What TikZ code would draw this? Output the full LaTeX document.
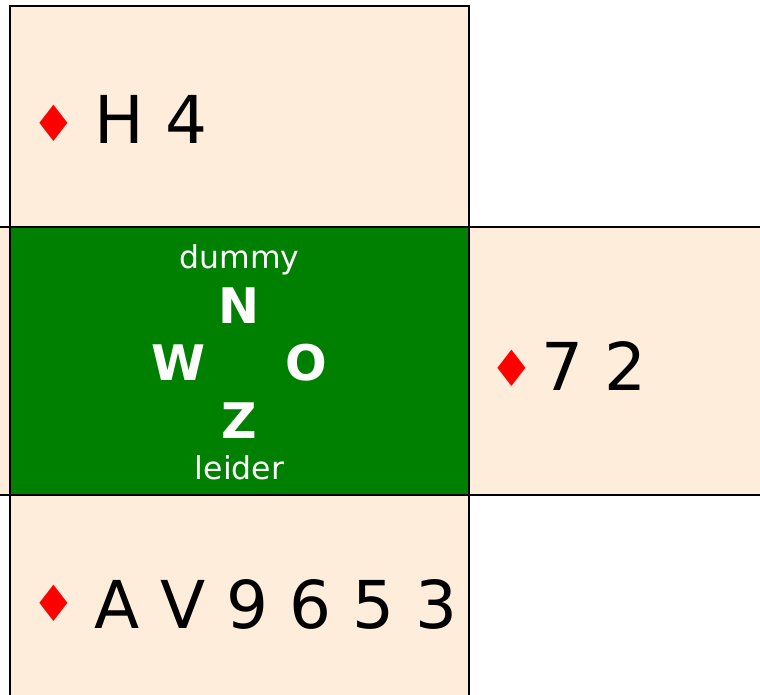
\documentclass[tikz,border=0pt]{standalone}
\usepackage{fontspec}
\setmainfont{DejaVu Sans}
\definecolor{handbg}{RGB}{253,237,218}
\definecolor{tablegreen}{RGB}{0,128,0}
\begin{document}
\begin{tikzpicture}[x=1pt,y=-1pt,
  handbox/.style={fill=handbg,draw=black,line width=2pt},
  tablebox/.style={fill=tablegreen,draw=black,line width=2pt},
  cards/.style={font=\fontsize{66}{66}\selectfont,anchor=base west,inner sep=0pt,text=black},
  suit/.style={font=\fontsize{50}{50}\selectfont,anchor=center,inner sep=0pt,text=red},
  label/.style={font=\fontsize{31.5}{31.5}\selectfont,anchor=base,inner sep=0pt,text=white},
  wind/.style={font=\fontsize{49}{49}\selectfont\bfseries,anchor=base,inner sep=0pt,text=white}]
\useasboundingbox (0,0) rectangle (760,694);
\begin{scope}
\clip (0,0) rectangle (760,694);
% west (empty, clipped)
\draw[handbox] (-300,227) rectangle (10,495);
% north
\draw[handbox] (10,6) rectangle (469,227);
% east
\draw[handbox] (469,227) rectangle (900,495);
% south
\draw[handbox] (10,495) rectangle (469,900);
% table
\draw[tablebox] (10,227) rectangle (469,495);
\end{scope}
% north hand
\node[suit] (ns) at (53.5,123.5) {♦};
\node[cards] (nc) at (94.5,143) {H 4};
% east hand
\node[suit] (es) at (512,368.5) {♦};
\node[cards] (ec) at (541.5,390) {7 2};
% south hand
\node[suit] (ss) at (53.5,603.5) {♦};
\node[cards] (sc) at (94.5,628) {A V 9 6 5 3};
% table labels
\node[label] (dm) at (239.5,268.5) {dummy};
\node[wind] (wn) at (239.5,323) {N};
\node[wind] (ww) at (179,380) {W};
\node[wind] (wo) at (306.5,380) {O};
\node[wind] (wz) at (239.5,438) {Z};
\node[label] (ld) at (239.5,479) {leider};
\end{tikzpicture}
\end{document}
